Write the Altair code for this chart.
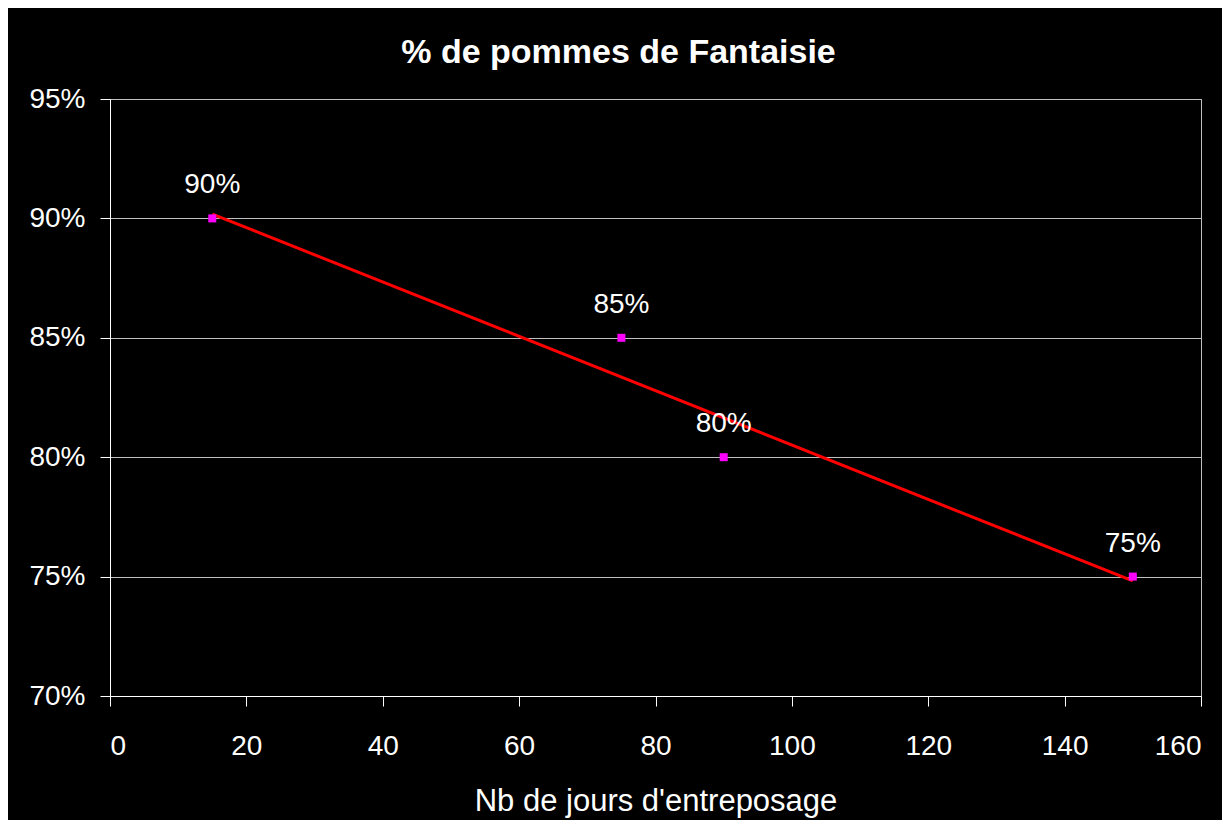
import altair as alt
import pandas as pd

jours = [15, 75, 90, 150]
pct = [0.90, 0.85, 0.80, 0.75]
x_ticks = [0, 20, 40, 60, 80, 100, 120, 140, 160]
y_ticks = [0.70, 0.75, 0.80, 0.85, 0.90, 0.95]

df = pd.DataFrame({"jours": jours, "pct": pct})
FONT = "Liberation Sans"

x_enc = alt.X("jours:Q",
              scale=alt.Scale(domain=[0, 160], nice=False, zero=False),
              axis=alt.Axis(values=x_ticks, title="Nb de jours d'entreposage",
                            grid=False, domainColor="white", tickColor="white",
                            tickSize=10, labelPadding=26, labelFontSize=28,
                            labelColor="white", labelFont=FONT,
                            titleFont=FONT, titleFontSize=31, titleFontWeight="normal",
                            titleColor="white", titleBaseline="alphabetic", titleY=114))
y_enc = alt.Y("pct:Q",
              scale=alt.Scale(domain=[0.70, 0.95], nice=False, zero=False),
              axis=alt.Axis(values=y_ticks, format=".0%", title=None,
                            grid=True, gridColor="#c0c0c0", gridWidth=1,
                            domainColor="white", tickColor="white",
                            tickSize=10, labelPadding=15, labelFontSize=28,
                            labelColor="white", labelFont=FONT))

base = alt.Chart(df)

trend = base.transform_regression("jours", "pct", method="linear").mark_line(
    color="#ff0000", strokeWidth=3).encode(x=x_enc, y=y_enc)

points = base.mark_square(color="#ff00ff", size=64, opacity=1, filled=True).encode(
    x="jours:Q", y="pct:Q")

labels = base.mark_text(color="white", fontSize=28, font=FONT, baseline="alphabetic",
                        dy=-25).encode(x="jours:Q", y="pct:Q",
                                       text=alt.Text("pct:Q", format=".0%"))

chart = alt.layer(trend, points, labels).properties(
    width=1091, height=597,
    title=alt.TitleParams("% de pommes de Fantaisie", fontSize=34, fontWeight="bold",
                          color="white", font=FONT, anchor="middle", dx=-37, dy=34,
                          baseline="alphabetic", offset=22),
    background="black",
    padding={"left": 102, "top": 91, "right": 21, "bottom": 124},
    autosize=alt.AutoSizeParams(type="none"),
).configure_view(stroke="#c0c0c0", strokeWidth=1)

chart.save("out.html", embed_options={"renderer": "svg", "actions": False})
